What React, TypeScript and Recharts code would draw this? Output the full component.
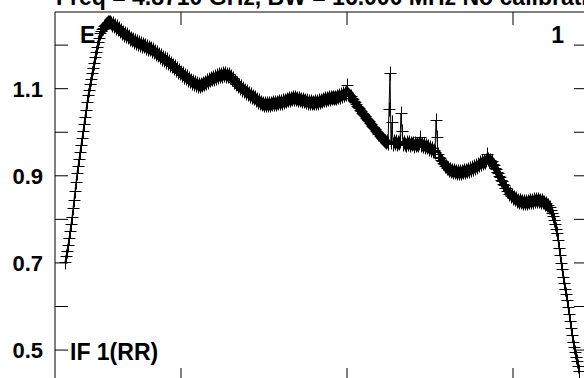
import { LineChart, Line, XAxis, YAxis } from "recharts";

// amplitude per channel (channel 0 = first plotted point)
const riseValues = [
  0.702, 0.715, 0.728, 0.741, 0.757, 0.773, 0.789, 0.805, 0.825, 0.845,
  0.866, 0.886, 0.906, 0.922, 0.939, 0.955, 0.971, 0.987, 1.003, 1.02,
  1.036, 1.052, 1.069, 1.085, 1.098, 1.11, 1.123, 1.135, 1.148, 1.16,
  1.172, 1.184, 1.195, 1.206, 1.217, 1.228, 1.233, 1.237, 1.24, 1.243,
  1.246, 1.248, 1.25, 1.252, 1.253, 1.252,
];

const slopeValues = [
  1.251, 1.247, 1.25, 1.244, 1.246, 1.24, 1.243, 1.236, 1.239, 1.232,
  1.234, 1.228, 1.231, 1.224, 1.227, 1.221, 1.225, 1.218, 1.221, 1.214,
  1.217, 1.211, 1.214, 1.208, 1.212, 1.205, 1.209, 1.203, 1.207, 1.201,
  1.205, 1.198, 1.203, 1.197, 1.201, 1.194, 1.199, 1.192, 1.196, 1.19,
  1.194, 1.187, 1.191, 1.184, 1.187, 1.18, 1.184, 1.177, 1.18, 1.173,
  1.177, 1.169, 1.173, 1.166, 1.17, 1.162, 1.167, 1.159, 1.163, 1.155,
  1.159, 1.151, 1.155, 1.148, 1.151, 1.144, 1.148, 1.139, 1.143, 1.135,
  1.139, 1.131, 1.135, 1.127, 1.132, 1.124, 1.128, 1.12, 1.125, 1.117,
  1.121, 1.114, 1.118, 1.111, 1.115, 1.108, 1.113, 1.106, 1.111, 1.106,
];

const bumpValues = [
  1.11, 1.108, 1.113, 1.11, 1.115, 1.113, 1.119, 1.116, 1.122, 1.119,
  1.125, 1.122, 1.127, 1.123, 1.129, 1.125, 1.131, 1.127, 1.133, 1.129,
  1.134, 1.13, 1.135, 1.131, 1.135, 1.13, 1.134, 1.129, 1.133, 1.127,
  1.13, 1.122, 1.124, 1.116, 1.118, 1.111, 1.114, 1.106, 1.109, 1.102,
  1.105, 1.098, 1.101, 1.094, 1.097, 1.09, 1.094, 1.087, 1.09, 1.084,
  1.087, 1.08, 1.083,
];

const middleValues = [
  1.078, 1.08, 1.074, 1.076, 1.07, 1.073, 1.067, 1.07, 1.065, 1.068,
  1.063, 1.067, 1.062, 1.066, 1.062, 1.067, 1.063, 1.068, 1.064, 1.069,
  1.065, 1.069, 1.065, 1.07, 1.066, 1.071, 1.067, 1.072, 1.068, 1.073,
  1.07, 1.075, 1.072, 1.077, 1.073, 1.078, 1.075, 1.079, 1.076, 1.08,
  1.076, 1.08, 1.076, 1.079, 1.075, 1.078, 1.074, 1.077, 1.072, 1.076,
  1.071, 1.074, 1.069, 1.073, 1.068, 1.071, 1.067, 1.071, 1.066, 1.07,
  1.067, 1.071, 1.067, 1.072, 1.068, 1.073, 1.07, 1.075, 1.072, 1.077,
  1.074, 1.078, 1.075, 1.079, 1.076, 1.08, 1.077, 1.081, 1.078, 1.082,
  1.078, 1.082, 1.079, 1.083, 1.08, 1.085, 1.082, 1.087, 1.084, 1.089,
  1.086, 1.09, 1.087, 1.108, 1.088, 1.086,
];

const dropValues = [
  1.084, 1.083, 1.079, 1.077, 1.072, 1.069, 1.064, 1.061, 1.057, 1.055,
  1.051, 1.049, 1.045, 1.043, 1.039, 1.037, 1.033, 1.031, 1.027, 1.025,
  1.021, 1.019, 1.015, 1.013, 1.009, 1.007, 1.003, 1.001, 0.997, 0.995,
  0.992, 0.99, 0.987, 0.985, 0.982, 0.981, 0.978, 0.979, 0.976, 1.053, 1.136,
];

const noisyValues = [
  0.977, 1.023, 0.974, 0.979, 0.975, 0.98, 0.973, 0.978, 0.976, 0.981,
  1.044, 1.003, 0.972, 0.978, 0.974, 0.97, 0.977, 0.973, 0.978, 0.971,
  0.976, 0.972, 0.975, 0.969, 0.976, 0.971, 0.974, 0.97, 0.975, 0.989,
  0.971, 0.974, 0.968, 0.972, 0.966, 0.97, 0.965, 0.968, 0.962, 0.966,
  0.96, 0.963, 0.957, 0.96, 0.954, 1.028, 0.989, 0.949, 0.944, 0.941,
  0.936, 0.934, 0.929, 0.928, 0.923, 0.923, 0.918, 0.919, 0.914, 0.916,
  0.911, 0.914, 0.909, 0.913, 0.908, 0.912, 0.907, 0.911, 0.906, 0.91,
];

const secondBumpValues = [
  0.907, 0.912, 0.908, 0.913, 0.909, 0.914, 0.91, 0.916, 0.912, 0.918,
  0.914, 0.92, 0.916, 0.922, 0.918, 0.925, 0.921, 0.928, 0.924, 0.931,
  0.927, 0.933, 0.929, 0.935, 0.931, 0.937, 0.95, 0.938, 0.933, 0.936,
  0.931, 0.933, 0.926, 0.925, 0.917, 0.916, 0.908, 0.907, 0.899, 0.898,
  0.89, 0.889, 0.881, 0.88, 0.872, 0.872, 0.865, 0.865, 0.859, 0.86,
  0.854, 0.855, 0.85, 0.851, 0.846, 0.848, 0.843,
];

const shelfValues = [
  0.845, 0.84, 0.844, 0.839, 0.843, 0.838, 0.842, 0.837, 0.842, 0.838,
  0.843, 0.839, 0.844, 0.84, 0.845, 0.841, 0.846, 0.842, 0.847, 0.843,
  0.846, 0.842, 0.845, 0.841, 0.844, 0.839, 0.841, 0.836, 0.837, 0.832,
  0.833, 0.829, 0.828,
];

const edgeValues = [
  0.822, 0.815, 0.808, 0.799, 0.789, 0.779, 0.769, 0.752, 0.735, 0.718,
  0.701, 0.685, 0.668, 0.655, 0.641, 0.628, 0.615, 0.599, 0.583, 0.567,
  0.551, 0.534, 0.518, 0.507, 0.495, 0.485, 0.475, 0.463, 0.452,
];

const yTicks = [0.5, 0.6, 0.7, 0.8, 0.9, 1.0, 1.1, 1.2];
const yLabelTicks = [0.5, 0.7, 0.9, 1.1];
const xTicks = [116, 282, 448];

const titleText = "Freq = 4.8710 GHz, BW = 16.000 MHz  No calibration";
const sourceLabel = "E";
const panelLabel = "1";
const ifLabel = "IF 1(RR)";

const FONT = '"Liberation Sans", Arial, Helvetica, sans-serif';

const channelValues = [
  ...riseValues,
  ...slopeValues,
  ...bumpValues,
  ...middleValues,
  ...dropValues,
  ...noisyValues,
  ...secondBumpValues,
  ...shelfValues,
  ...edgeValues,
];

const data = channelValues.map((v, i) => ({ ch: i, amp: v }));

const TICK = 13;

function LeftTick(props: any) {
  const { x, y, payload } = props;
  const v = payload.value as number;
  const show = yLabelTicks.some((t) => Math.abs(t - v) < 1e-6);
  return (
    <g>
      <line x1={x} x2={x + TICK} y1={y} y2={y} stroke="#000" />
      {show && (
        <text x={x - 12} y={y + 8} textAnchor="end" fontFamily={FONT} fontWeight="bold" fontSize={22} fill="#000">
          {v.toFixed(1)}
        </text>
      )}
    </g>
  );
}

function RightTick(props: any) {
  const { x, y } = props;
  return <line x1={x - TICK} x2={x} y1={y} y2={y} stroke="#000" />;
}

function TopTick(props: any) {
  const { x, y } = props;
  return <line x1={x} x2={x} y1={y} y2={y + TICK} stroke="#000" />;
}

function BottomTick(props: any) {
  const { x, y } = props;
  return <line x1={x} x2={x} y1={y - TICK} y2={y} stroke="#000" />;
}

// "+" marker, snapped to the pixel grid so it stays dark
function renderCross(p: any) {
  const { cx, cy, index } = p;
  if (cx == null || cy == null) return <g key={index} />;
  const px = Math.round(cx) + 0.5;
  const py = Math.round(cy) + 0.5;
  return (
    <path
      key={index}
      d={`M${px - 6},${py}h12M${px},${py - 7}v14`}
      stroke="#000"
      strokeWidth={1}
      fill="none"
    />
  );
}

export default function App() {
  return (
    <div
      style={{
        position: "absolute",
        left: 0,
        top: 0,
        width: 584,
        height: 378,
        overflow: "hidden",
        background: "#fff",
      }}
    >
      <LineChart width={600} height={400} data={data} margin={{ top: 2, right: 3, bottom: 9, left: 15 }}>
        <XAxis
          xAxisId="bottom"
          dataKey="ch"
          type="number"
          domain={[-10, 522]}
          ticks={xTicks}
          interval={0}
          height={10}
          tickSize={0}
          tickMargin={0}
          tickLine={false}
          tick={<BottomTick />}
          axisLine={{ stroke: "#000" }}
          allowDataOverflow
        />
        <XAxis
          xAxisId="top"
          orientation="top"
          dataKey="ch"
          type="number"
          domain={[-10, 522]}
          ticks={xTicks}
          interval={0}
          height={10}
          tickSize={0}
          tickMargin={0}
          tickLine={false}
          tick={<TopTick />}
          axisLine={{ stroke: "#000" }}
          allowDataOverflow
        />
        <YAxis
          yAxisId="left"
          type="number"
          domain={[0.429, 1.276]}
          ticks={yTicks}
          interval={0}
          width={40}
          tickSize={0}
          tickMargin={0}
          tickLine={false}
          tick={<LeftTick />}
          axisLine={{ stroke: "#000" }}
          allowDataOverflow
        />
        <YAxis
          yAxisId="right"
          orientation="right"
          type="number"
          domain={[0.429, 1.276]}
          ticks={yTicks}
          interval={0}
          width={10}
          tickSize={0}
          tickMargin={0}
          tickLine={false}
          tick={<RightTick />}
          axisLine={{ stroke: "#000" }}
          allowDataOverflow
        />
        <Line
          xAxisId="bottom"
          yAxisId="left"
          type="linear"
          dataKey="amp"
          stroke="#000"
          strokeWidth={1}
          dot={renderCross}
          activeDot={false}
          isAnimationActive={false}
        />
      </LineChart>
      <svg
        width={584}
        height={378}
        style={{ position: "absolute", left: 0, top: 0, pointerEvents: "none" }}
      >
        <g fontFamily={FONT} fontWeight="bold" fill="#000">
          <text x={56} y={5} fontSize={23}>{titleText}</text>
          <text x={80} y={43} fontSize={23}>{sourceLabel}</text>
          <text x={564} y={43} fontSize={23} textAnchor="end">{panelLabel}</text>
          <text x={70} y={360} fontSize={23}>{ifLabel}</text>
        </g>
      </svg>
    </div>
  );
}
